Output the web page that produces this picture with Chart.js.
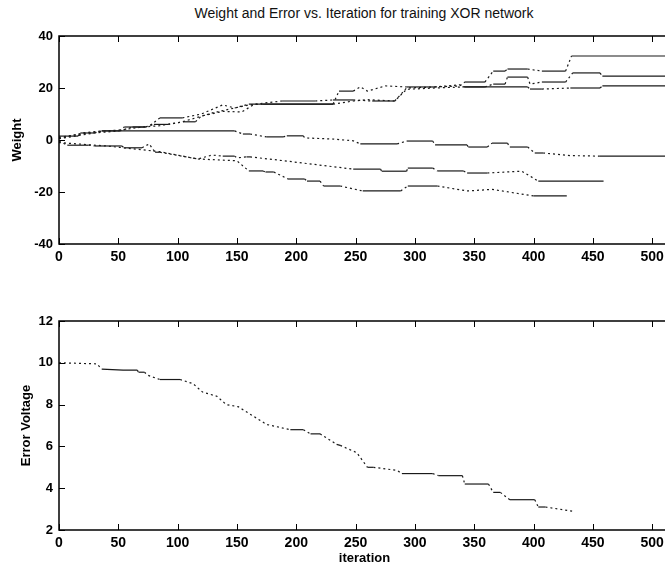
<!DOCTYPE html>
<html>
<head>
<meta charset="utf-8">
<script src="https://cdn.jsdelivr.net/npm/chart.js@4.4.0/dist/chart.umd.min.js"></script>
<style>
  html, body { margin: 0; padding: 0; background: #fff; overflow: hidden; width: 665px; height: 567px; }
  #wrap { position: relative; width: 665px; height: 567px; overflow: hidden; }
  #title { position: absolute; left: 0; top: 5px; width: 728px; text-align: center;
           font: 14px "Liberation Sans", Arial, sans-serif; color: #111; }
  .box { position: absolute; left: 0; }
</style>
</head>
<body>
<div id="wrap">
<div id="title">Weight and Error vs. Iteration for training XOR network</div>
<div class="box" style="top:0"><canvas id="weightChart" width="720" height="270"></canvas></div>
<div class="box" style="top:270px"><canvas id="errorChart" width="720" height="297"></canvas></div>
</div>
<script>
// tick labels
const iterTicks = [0, 50, 100, 150, 200, 250, 300, 350, 400, 450, 500];
const weightTicks = [-40, -20, 0, 20, 40];
const errorTicks = [2, 4, 6, 8, 10, 12];

// weight traces (iteration, value)
const wAIter = [0, 16, 18, 30, 36, 51, 55, 73, 78, 85, 104, 120, 138, 148, 160, 231, 236, 248, 254, 260, 275, 293, 317, 338, 342, 359, 366, 376, 378, 395, 407, 427, 432, 512];
const wAVal  = [1.5, 1.5, 2.7, 2.7, 3.5, 3.5, 5, 5, 6, 8.5, 8.5, 10, 13.5, 12.3, 13.8, 13.8, 18.8, 18.8, 20.4, 18.8, 20.8, 20.4, 20.4, 20.8, 22.3, 22.3, 26.5, 26.5, 27.3, 27.3, 26.5, 26.5, 32.3, 32.3];

const wBIter = [0, 20, 36, 51, 62, 73, 80, 92, 105, 115, 120, 138, 154, 165, 188, 216, 231, 248, 264, 283, 293, 317, 338, 342, 359, 366, 376, 378, 395, 397, 407, 427, 433, 456, 458, 512];
const wBVal  = [0.5, 2.7, 3.5, 3.5, 5, 5, 6, 6, 7, 7, 9.2, 11, 10.8, 13.8, 15, 15, 15.4, 15.4, 15, 15, 20, 20.4, 21.2, 20.4, 20.4, 21.5, 21.5, 24.2, 24.2, 21.5, 22.3, 22.3, 25.8, 25.8, 24.6, 24.6];

const wCIter = [0, 25, 40, 55, 70, 85, 104, 130, 160, 172, 231, 248, 260, 283, 293, 317, 340, 359, 378, 395, 397, 407, 431, 456, 458, 512];
const wCVal  = [1, 2.7, 3.5, 4, 5, 5.5, 7, 10.5, 13.5, 13.8, 13.8, 15, 15.5, 15, 19.5, 20, 20.4, 20.4, 20.4, 20.4, 19.6, 19.6, 20, 20, 20.8, 20.8];

const wDIter = [0, 30, 51, 115, 148, 155, 161, 175, 189, 192, 206, 207, 230, 248, 254, 285, 293, 315, 317, 344, 345, 361, 365, 378, 380, 395, 401, 408, 431, 456, 512];
const wDVal  = [0.5, 2.7, 3.5, 3.5, 3.5, 2.3, 2.3, 1.2, 1.2, 1.6, 1.6, 0.8, 0.4, -0.3, -1.5, -1.5, -0.4, -0.4, -1.9, -1.9, -2.7, -2.7, -1.2, -1.2, -2.7, -2.7, -5, -5, -6, -6.2, -6.2];

const wEIter = [0, 7, 25, 30, 53, 55, 70, 76, 81, 85, 117, 129, 138, 148, 150, 158, 161, 190, 248, 271, 272, 293, 294, 315, 319, 341, 344, 361, 390, 404, 459];
const wEVal  = [-0.4, -2, -2, -2.3, -2.3, -3, -3, -1.5, -4.7, -4.7, -7.3, -5.8, -6.2, -6.2, -6.9, -6.5, -6.5, -8, -11.2, -11.2, -12, -12, -10.8, -10.8, -11.9, -11.9, -12.7, -12.7, -12, -15.8, -15.8];

const wFIter = [0, 40, 85, 117, 150, 160, 172, 174, 181, 193, 207, 209, 220, 223, 237, 256, 288, 294, 319, 344, 365, 400, 428];
const wFVal  = [-1, -2.3, -4.5, -7.3, -8, -11.9, -11.9, -12.3, -12.3, -15, -15, -15.8, -15.8, -17.7, -17.7, -19.6, -19.6, -17.7, -17.7, -19.6, -19, -21.5, -21.5];

// error voltage
const errIter = [0, 32, 36, 54, 66, 67, 72, 75, 85, 102, 113, 121, 133, 141, 151, 175, 195, 206, 212, 220, 234, 237, 251, 260, 265, 285, 289, 315, 320, 340, 342, 362, 366, 372, 380, 401, 404, 410, 433];
const errVolt = [10.0, 9.95, 9.7, 9.65, 9.65, 9.55, 9.55, 9.4, 9.2, 9.2, 9.0, 8.6, 8.4, 8.0, 7.9, 7.05, 6.8, 6.8, 6.6, 6.6, 6.1, 6.05, 5.7, 5.0, 5.0, 4.85, 4.7, 4.7, 4.6, 4.6, 4.2, 4.2, 3.8, 3.8, 3.45, 3.45, 3.1, 3.1, 2.9];

Chart.defaults.font.family = '"Liberation Sans", Arial, Helvetica, sans-serif';
Chart.defaults.color = '#000';

const pts = (xs, ys) => xs.map((x, i) => ({ x, y: ys[i] }));

// matlab style axes: box on left/top/bottom, ticks pointing inwards
// (the right side of the original is cut off by the scan)
const matlabFrame = {
    id: 'matlabFrame',
    afterDatasetsDraw(chart) {
        const { ctx, chartArea: a, scales: { x, y } } = chart;
        ctx.save();
        ctx.strokeStyle = '#000';
        ctx.lineWidth = 1.5;
        ctx.beginPath();
        ctx.moveTo(a.right, a.top); ctx.lineTo(a.left, a.top);
        ctx.lineTo(a.left, a.bottom); ctx.lineTo(a.right, a.bottom);
        ctx.stroke();
        ctx.lineWidth = 1;
        ctx.beginPath();
        x.ticks.forEach(t => {
            const px = Math.round(x.getPixelForValue(t.value)) + 0.5;
            ctx.moveTo(px, a.bottom); ctx.lineTo(px, a.bottom - 6);
            ctx.moveTo(px, a.top); ctx.lineTo(px, a.top + 6);
        });
        y.ticks.forEach(t => {
            const py = Math.round(y.getPixelForValue(t.value)) + 0.5;
            ctx.moveTo(a.left, py); ctx.lineTo(a.left + 6, py);
        });
        ctx.stroke();
        ctx.restore();
    }
};

function traceSet(data) {
    return {
        data,
        borderColor: '#1a1a1a',
        borderWidth: 1.2,
        pointRadius: 0,
        tension: 0,
        segment: {
            borderDash: c => Math.abs(c.p1.parsed.y - c.p0.parsed.y) > 0.05 ? [2, 3] : undefined
        }
    };
}

function chartOptions(cfg) {
    return {
        responsive: false,
        animation: false,
        events: [],
        layout: { padding: { top: cfg.top, right: 50, left: 0, bottom: 0 } },
        plugins: { legend: { display: false }, tooltip: { enabled: false } },
        scales: {
            x: {
                type: 'linear',
                min: 0,
                max: 515,
                afterBuildTicks: s => { s.ticks = iterTicks.map(v => ({ value: v })); },
                afterFit: s => { s.height = cfg.xHeight; },
                grid: { display: false, drawTicks: false },
                border: { display: false },
                ticks: { padding: 5, font: { size: 14, weight: 'bold' } },
                title: {
                    display: !!cfg.xTitle,
                    text: cfg.xTitle || '',
                    font: { size: 13, weight: 'bold' },
                    padding: { top: 0, bottom: 1 }
                }
            },
            y: {
                min: cfg.yMin,
                max: cfg.yMax,
                afterBuildTicks: s => { s.ticks = cfg.yTicks.map(v => ({ value: v })); },
                afterFit: s => { s.width = 59; },
                grid: { display: false, drawTicks: false },
                border: { display: false },
                ticks: { padding: 6, font: { size: 13, weight: 'bold' } },
                title: {
                    display: true,
                    text: cfg.yTitle,
                    font: { size: 13, weight: 'bold' },
                    padding: { top: cfg.yTitlePad, bottom: 0 }
                }
            }
        }
    };
}

new Chart(document.getElementById('weightChart'), {
    type: 'line',
    data: {
        datasets: [
            traceSet(pts(wAIter, wAVal)),
            traceSet(pts(wBIter, wBVal)),
            traceSet(pts(wCIter, wCVal)),
            traceSet(pts(wDIter, wDVal)),
            traceSet(pts(wEIter, wEVal)),
            traceSet(pts(wFIter, wFVal))
        ]
    },
    options: chartOptions({ top: 36, xHeight: 26, yMin: -40, yMax: 40, yTicks: weightTicks, yTitle: 'Weight', yTitlePad: 10 }),
    plugins: [matlabFrame]
});

new Chart(document.getElementById('errorChart'), {
    type: 'line',
    data: { datasets: [traceSet(pts(errIter, errVolt))] },
    options: chartOptions({ top: 51, xHeight: 37, yMin: 2, yMax: 12, yTicks: errorTicks, yTitle: 'Error Voltage', yTitlePad: 19, xTitle: 'iteration' }),
    plugins: [matlabFrame]
});
</script>
</body>
</html>
